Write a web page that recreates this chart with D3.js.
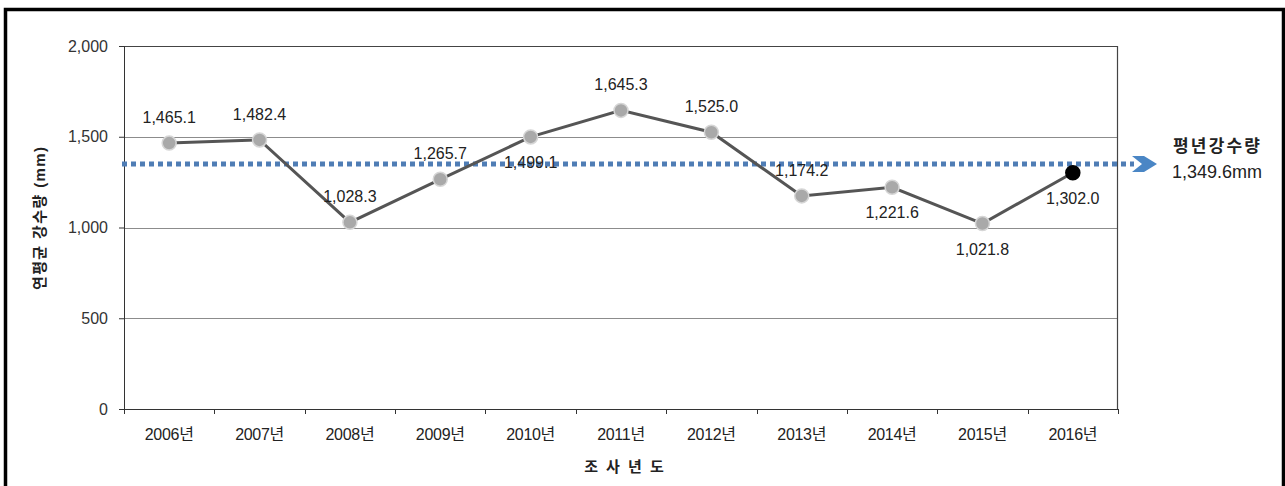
<!DOCTYPE html>
<html>
<head>
<meta charset="utf-8">
<script src="https://cdn.jsdelivr.net/npm/d3@7"></script>
<style>
  body { margin: 0; background: #fff; }
  svg text { font-family: "Liberation Sans", "Noto Sans CJK KR", sans-serif; }
</style>
</head>
<body>
<div id="chart"></div>
<script>
// data
let years = ["2006년", "2007년", "2008년", "2009년", "2010년", "2011년", "2012년", "2013년", "2014년", "2015년", "2016년"];
let rainfall = [1465.1, 1482.4, 1028.3, 1265.7, 1499.1, 1645.3, 1525.0, 1174.2, 1221.6, 1021.8, 1302.0];
let labelSide = ["up", "up", "up", "up", "down", "up", "up", "up", "down", "down", "down"];
let yTicks = [0, 500, 1000, 1500, 2000];
let meanRain = 1349.6;

let svgWidth = 1285;
let svgHeight = 486;
let margin = { top: 46, right: 167, bottom: 77, left: 124 };
let chartWidth = svgWidth - margin.left - margin.right;
let chartHeight = svgHeight - margin.top - margin.bottom;

let svg = d3.select("#chart")
    .append("svg")
    .attr("width", svgWidth)
    .attr("height", svgHeight);

// outer frame
svg.append("path")
    .attr("d", "M5.5,500 V9.5 H1283.5 V500")
    .attr("fill", "none")
    .attr("stroke", "#000")
    .attr("stroke-width", 3.5);

let chartGroup = svg.append("g")
    .attr("transform", `translate(${margin.left},${margin.top})`);

let xScale = d3.scaleBand()
    .domain(years)
    .range([0, chartWidth]);

let yScale = d3.scaleLinear()
    .domain([0, 2000])
    .range([chartHeight, 0]);

// gridlines
chartGroup.selectAll(".grid")
    .data(yTicks.filter(d => d > 0 && d < 2000))
    .enter()
    .append("line")
    .attr("x1", 0)
    .attr("x2", chartWidth)
    .attr("y1", d => Math.round(yScale(d)) + 0.5)
    .attr("y2", d => Math.round(yScale(d)) + 0.5)
    .attr("stroke", "#8c8c8c")
    .attr("stroke-width", 1);

// plot frame top/right
chartGroup.append("path")
    .attr("d", `M0,0.5 H${chartWidth - 0.5} V${chartHeight}`)
    .attr("fill", "none")
    .attr("stroke", "#444")
    .attr("stroke-width", 1.2);

// y axis
let yAxis = d3.axisLeft(yScale)
    .tickValues(yTicks)
    .tickSize(5)
    .tickFormat(d3.format(","));
let yg = chartGroup.append("g").call(yAxis);
yg.select(".domain").attr("stroke", "#333");
yg.selectAll(".tick line").attr("stroke", "#333");
yg.selectAll("text")
    .attr("x", -16)
    .style("font-size", "16px")
    .attr("fill", "#333");

// x axis, ticks on band boundaries
let xg = chartGroup.append("g")
    .attr("transform", `translate(0, ${chartHeight})`);
xg.append("line")
    .attr("x1", 0).attr("x2", chartWidth)
    .attr("y1", 0.5).attr("y2", 0.5)
    .attr("stroke", "#333");
xg.selectAll(".xt")
    .data(years.concat(["end"]))
    .enter()
    .append("line")
    .attr("x1", (d, i) => Math.round(i * xScale.step()) + 0.5)
    .attr("x2", (d, i) => Math.round(i * xScale.step()) + 0.5)
    .attr("y1", 0)
    .attr("y2", 5)
    .attr("stroke", "#333");
xg.selectAll(".xl")
    .data(years)
    .enter()
    .append("text")
    .attr("x", d => xScale(d) + xScale.bandwidth() / 2)
    .attr("y", 31)
    .attr("text-anchor", "middle")
    .style("font-size", "16px")
    .attr("fill", "#222")
    .style("letter-spacing", "-0.3px")
    .text(d => d);

// axis titles
svg.append("text")
    .attr("transform", "translate(45, 290) rotate(-90)")
    .attr("text-anchor", "start")
    .attr("textLength", 143)
    .attr("lengthAdjust", "spacing")
    .style("font-size", "15px")
    .style("font-weight", "bold")
    .attr("fill", "#222")
    .text("연평균  강수량 (mm)");

svg.append("text")
    .attr("x", 625)
    .attr("y", 472)
    .attr("text-anchor", "middle")
    .style("font-size", "15px")
    .style("font-weight", "bold")
    .style("letter-spacing", "2px")
    .attr("fill", "#222")
    .text("조 사 년 도");

// mean line (dotted, with arrow head)
let meanY = yScale(meanRain);
chartGroup.append("line")
    .attr("x1", -2)
    .attr("x2", 1010)
    .attr("y1", meanY)
    .attr("y2", meanY)
    .attr("stroke", "#4f7db5")
    .attr("stroke-width", 5)
    .attr("stroke-dasharray", "5,4");
chartGroup.append("path")
    .attr("d", `M1008,${meanY - 8} L1020,${meanY - 8} L1033,${meanY} L1020,${meanY + 8} L1008,${meanY + 8} L1018,${meanY} Z`)
    .attr("fill", "#4a86c5");

svg.append("text")
    .attr("x", 1173)
    .attr("y", 152)
    .attr("textLength", 87)
    .attr("lengthAdjust", "spacing")
    .style("font-size", "17px")
    .style("font-weight", "bold")
    .attr("fill", "#222")
    .text("평년강수량");
svg.append("text")
    .attr("x", 1172)
    .attr("y", 178)
    .style("font-size", "18px")
    .attr("fill", "#222")
    .text(d3.format(",.1f")(meanRain) + "mm");

// series line
let line = d3.line()
    .x((d, i) => xScale(years[i]) + xScale.bandwidth() / 2)
    .y(d => yScale(d));
chartGroup.append("path")
    .datum(rainfall)
    .attr("d", line)
    .attr("fill", "none")
    .attr("stroke", "#555")
    .attr("stroke-width", 3);

chartGroup.selectAll(".dot")
    .data(rainfall)
    .enter()
    .append("circle")
    .attr("class", "dot")
    .attr("r", 7)
    .attr("cx", (d, i) => xScale(years[i]) + xScale.bandwidth() / 2)
    .attr("cy", d => yScale(d))
    .attr("fill", (d, i) => i === rainfall.length - 1 ? "#000" : "#a9a9a9")
    .attr("stroke", (d, i) => i === rainfall.length - 1 ? "#000" : "#d6d6d6")
    .attr("stroke-width", 1.5);

// value labels
chartGroup.selectAll(".val")
    .data(rainfall)
    .enter()
    .append("text")
    .attr("x", (d, i) => xScale(years[i]) + xScale.bandwidth() / 2)
    .attr("y", (d, i) => yScale(d) + (labelSide[i] === "up" ? -20 : 31))
    .attr("text-anchor", "middle")
    .style("font-size", "16px")
    .attr("fill", "#222")
    .text(d => d3.format(",.1f")(d));
</script>
</body>
</html>
